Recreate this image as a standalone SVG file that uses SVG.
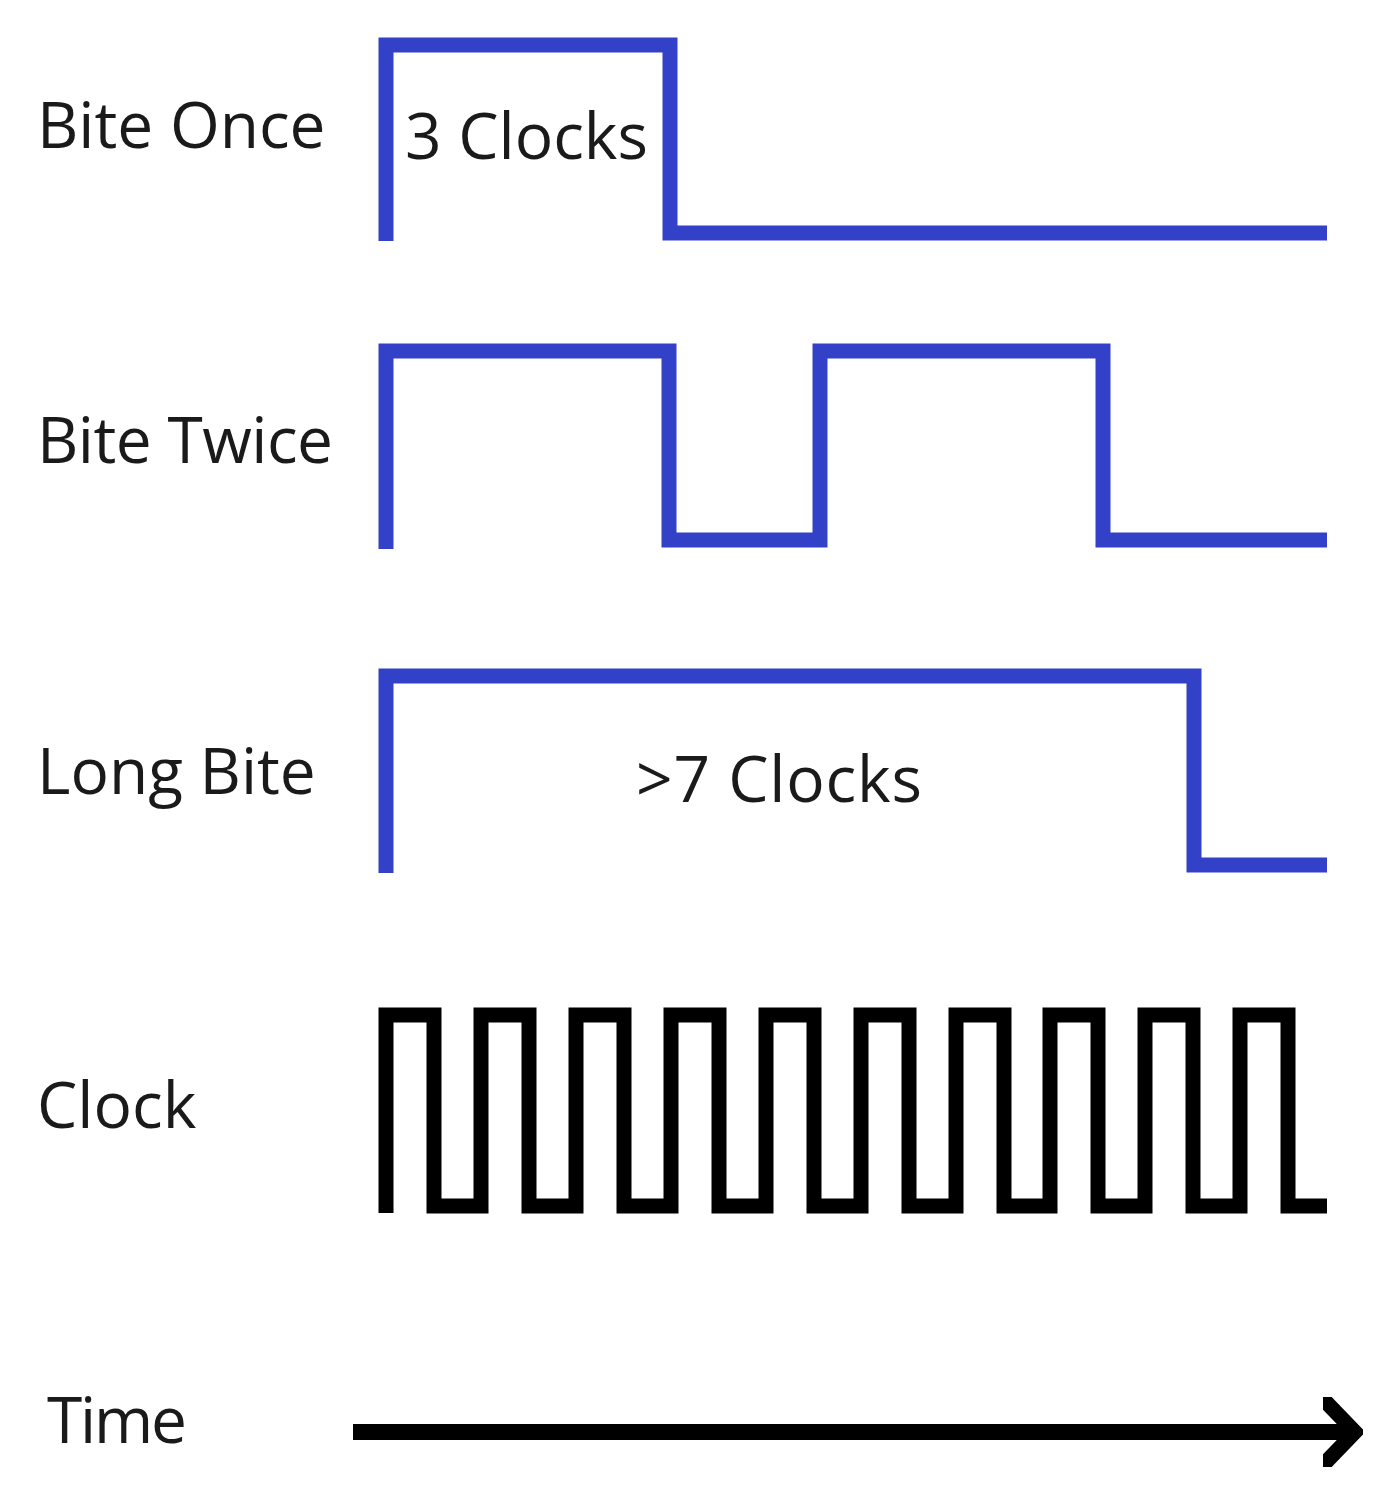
<svg xmlns="http://www.w3.org/2000/svg" width="1380" height="1495" viewBox="0 0 1380 1495">
<style>
  .lbl { font-family: "Open Sans", "Noto Sans", "Liberation Sans", sans-serif; font-size: 64px; fill: #1a1a1a; }
  .wave { fill: none; stroke: #3340c8; stroke-width: 15; stroke-linejoin: miter; stroke-linecap: butt; }
  .clk { fill: none; stroke: #000; stroke-width: 15; stroke-linejoin: miter; stroke-linecap: butt; }
</style>
<defs>
  <marker id="head" markerUnits="userSpaceOnUse" viewBox="0 0 40 70" refX="32" refY="35" markerWidth="40" markerHeight="70" orient="auto">
    <polyline points="4,6 32,35 4,64" fill="none" stroke="#000" stroke-width="15" stroke-linecap="round" stroke-linejoin="miter"/>
  </marker>
</defs>
<rect width="1380" height="1495" fill="#fff"/>
<g id="bite-once">
  <text class="lbl" x="37" y="148">Bite Once</text>
  <path class="wave" d="M386,241 V45 H670 V233 H1327"/>
  <text class="lbl" x="405" y="159">3 Clocks</text>
</g>
<g id="bite-twice">
  <text class="lbl" x="37" y="463" textLength="296">Bite Twice</text>
  <path class="wave" d="M386,549 V351 H669 V540 H820 V351 H1103 V540 H1327"/>
</g>
<g id="long-bite">
  <text class="lbl" x="37" y="794">Long Bite</text>
  <path class="wave" d="M386,873 V676 H1194 V865 H1327"/>
  <text class="lbl" x="636" y="802" textLength="286">&gt;7 Clocks</text>
</g>
<g id="clock">
  <text class="lbl" x="37" y="1128">Clock</text>
  <path class="clk" d="M386,1213 V1015 H434 V1206 H481 V1015 H529 V1206 H576 V1015 H624 V1206 H671 V1015 H719 V1206 H766 V1015 H814 V1206 H861 V1015 H909 V1206 H956 V1015 H1004 V1206 H1050 V1015 H1098 V1206 H1145 V1015 H1193 V1206 H1240 V1015 H1288 V1206 H1327"/>
</g>
<g id="time">
  <text class="lbl" x="47" y="1443" textLength="140">Time</text>
</g>
<g id="connectors">
  <line x1="353" y1="1432" x2="1355" y2="1432" stroke="#000" stroke-width="16" marker-end="url(#head)"/>
</g>
</svg>
